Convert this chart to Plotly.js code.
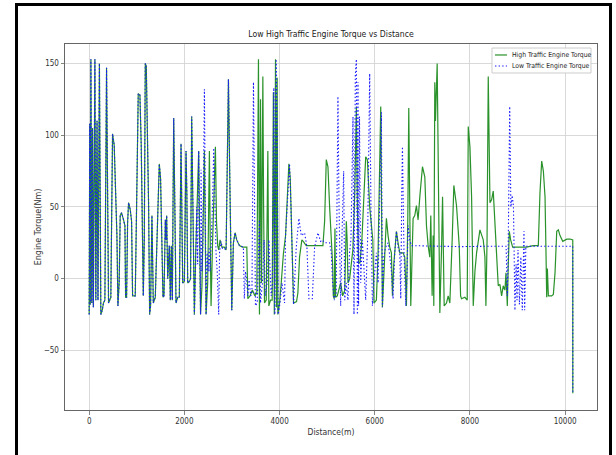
<!DOCTYPE html>
<html>
<head>
<meta charset="utf-8">
<script src="https://cdn.plot.ly/plotly-3.0.1.min.js"></script>
<style>
  html, body { margin: 0; padding: 0; background: #ffffff; }
  #wrap { position: relative; width: 616px; height: 455px; overflow: hidden; }
  #chart { position: absolute; left: 0; top: 0; width: 616px; height: 455px; }
  #frame { position: absolute; left: 15px; top: 3px; width: 591px; height: 470px;
           border: 3px solid #000; pointer-events: none; }
</style>
</head>
<body>
<div id="wrap">
  <div id="chart"></div>
  <div id="frame"></div>
</div>
<script>
// Segment where both runs coincide (distance in m, torque in Nm)
const sharedDistance = [0,12,24,36,55,70,88,120,140,165,185,215,245,275,300,330,365,385,407,455,
  491,526,561,583,604,630,652,680,722,751,765,786,807,828,863,891,912,968,996,1031,
  1066,1094,1123,1137,1158,1179,1200,1228,1249,1270,1290,1319,1347,1389,1420,1473,1500,1530,1551,1572,
  1600,1614,1628,1650,1684,1705,1726,1747,1776,1800,1824,1860,1894,1930,1948,1965,2000,2035,2052,2070,
  2105,2130,2154,2180,2210];
const sharedTorque = [-25,108,-18,153,-17,105,-20,153,-15,110,-15,150,-25,-22,-17,-15,147,50,-17,-13,
  101,93,55,30,-19,-3,44,46,41,37,-13,-13,39,53,48,40,-12,-12,50,129,
  128,93,23,-12,27,150,148,93,50,-25,-19,44,-17,-13,27,80,70,27,-13,-12,
  41,27,44,0,23,-15,23,-15,112,50,-17,-13,-13,94,50,-3,-2,89,60,-3,
  -2,0,113,27,-25];

// High traffic run after the shared segment
const highDistance = [2240,2301,2320,2340,2370,2400,2421,2440,2456,2490,2526,2545,2561,2590,2617,2652,2675,2700,2722,2750,
  2790,2840,2877,2926,2950,2975,2996,3030,3066,3100,3158,3220,3284,3312,3333,3380,3430,3480,3523,3557,
  3578,3600,3621,3649,3665,3684,3720,3754,3775,3810,3845,3870,3890,3915,3935,3950,3964,4000,4035,4080,
  4126,4160,4196,4225,4260,4294,4357,4385,4420,4469,4498,4561,4911,4947,4982,5017,5052,5087,5115,5129,
  5150,5164,5178,5213,5241,5284,5326,5370,5403,5420,5438,5473,5500,5540,5580,5614,5635,5660,5690,5730,
  5810,5845,5894,5940,5960,5985,6035,6070,6105,6126,6161,6189,6245,6280,6315,6350,6372,6400,6456,6490,
  6526,6595,6631,6666,6694,6715,6736,6757,6806,6841,6876,6911,6947,7003,7052,7087,7122,7157,7178,7206,
  7227,7241,7262,7276,7312,7368,7403,7425,7459,7508,7543,7578,7627,7662,7718,7775,7804,7824,7894,7943,
  7965,8000,8035,8070,8105,8140,8210,8245,8280,8315,8336,8360,8385,8421,8455,8490,8525,8560,8595,8630,
  8666,8700,8736,8757,8786,8806,8827,8856,8898,8946,9050,9190,9330,9437,9472,9508,9543,9578,9600,9613,
  9627,9648,9718,9753,9788,9824,9858,9893,9950,10035,10105,10161,10162];
const highTorque = [20,89,30,-25,-5,40,89,30,-25,-3,89,20,-19,22,50,92,40,23,20,27,
  22,22,20,139,80,27,-22,25,32,27,23,22,22,22,-14,-12,-8,-12,-10,153,
  -25,125,-3,141,50,-17,-15,89,-19,-15,-15,130,-25,153,-20,140,-25,-17,-3,17,
  30,50,80,70,20,-17,-16,-10,15,27,26,23,23,40,83,78,50,27,10,-12,
  -14,35,-13,-12,-8,-3,-12,-8,40,27,-3,0,8,20,60,120,50,11,11,27,
  85,83,50,37,27,-17,-15,18,97,120,-20,0,42,30,22,18,-12,10,33,25,
  18,18,15,-19,40,119,60,-19,42,44,51,41,57,78,71,37,23,15,44,-12,
  30,-19,137,110,150,-24,20,57,-19,-17,-12,-17,27,65,51,23,-12,-14,-13,-15,
  106,92,57,-19,5,18,34,30,27,15,-19,27,141,53,55,61,38,8,-5,-4,
  -12,-5,-8,4,-19,10,33,27,22,22,22,22,23,23,60,82,75,57,15,-13,
  7,-12,-12,-11,4,33,34,30,26,27.5,27.6,27,-80];

// Low traffic run after the shared segment
const lowDistance = [2230,2260,2280,2301,2320,2340,2351,2370,2390,2421,2440,2456,2480,2500,2520,2540,2560,2590,2617,2640,
  2665,2690,2722,2740,2770,2800,2840,2877,2926,2950,2975,2996,3030,3066,3100,3158,3240,3260,3285,3310,
  3333,3360,3395,3420,3452,3470,3494,3530,3578,3600,3640,3675,3700,3740,3775,3824,3850,3880,3902,3929,
  3950,3971,4010,4050,4105,4126,4160,4210,4240,4270,4294,4351,4406,4456,4526,4575,4617,4688,4736,4807,
  4862,4898,4947,5052,5087,5115,5150,5190,5227,5250,5284,5310,5347,5370,5400,5438,5470,5500,5543,5564,
  5592,5614,5635,5648,5660,5680,5705,5740,5780,5810,5850,5894,5920,5951,5980,6035,6070,6105,6140,6161,
  6189,6230,6280,6315,6350,6385,6420,6456,6490,6526,6547,6568,6582,6600,6615,6652,6680,6701,6736,6771,
  7200,7800,8400,8760,8786,8800,8836,8860,8890,8915,8946,8970,8990,9010,9040,9070,9100,9120,9136,9150,
  9175,10161,10162];
const lowTorque = [0,50,10,89,30,-25,76,5,27,132,50,-25,18,5,22,5,22,50,91,50,
  18,5,-25,19,26,21,21,20,139,80,27,-22,25,32,27,23,22,-14,5,-1,
  -12,-1,-12,-10,137,40,-19,-17,41,-17,-3,27,-12,-3,27,-12,-5,133,-25,153,
  93,-25,-17,-3,-17,30,50,80,50,10,-18,22,42,30,32,22,-14,-14,22,32,
  26,27,25,25,18,-3,-15,-10,127,50,-19,27,75,-15,-3,-15,18,27,113,-25,
  142,153,-25,137,-19,113,-3,27,-3,-15,27,143,50,-19,-3,18,-3,50,116,-20,
  15,22,25,16,5,-14,18,33,22,18,-14,60,92,50,18,-19,5,37,27,23,
  22.6,22.3,22.6,22.6,-12,10,120,50,58,50,-22,10,-15,20,-18,15,-22,20,33,-22,
  22.6,22.6,-80];

const xTicks = [0, 2000, 4000, 6000, 8000, 10000];
const yTicks = [-50, 0, 50, 100, 150];
const seriesNames = ['High Traffic Engine Torque', 'Low Traffic Engine Torque'];

const narrow = '"Liberation Sans Narrow", "DejaVu Sans Condensed", "Roboto Condensed", "Liberation Sans", sans-serif';
const greenLine = { color: '#2a922a', width: 1.2 };
const blueLine = { color: '#1818ff', width: 1.1, dash: '1.4px,2.2px' };

const traces = [
  {
    x: sharedDistance.concat(highDistance),
    y: sharedTorque.concat(highTorque),
    type: 'scatter', mode: 'lines',
    name: seriesNames[0],
    line: greenLine
  },
  {
    x: sharedDistance.concat(lowDistance),
    y: sharedTorque.concat(lowTorque),
    type: 'scatter', mode: 'lines',
    name: seriesNames[1],
    line: blueLine
  }
];

const axisCommon = {
  showline: true, mirror: true, linecolor: '#666', linewidth: 1,
  ticks: 'outside', ticklen: 3.5, tickcolor: '#666', tickwidth: 0.8,
  showgrid: true, gridcolor: '#d0d0d0', gridwidth: 0.8,
  zeroline: false,
  tickfont: { family: narrow, size: 8, color: '#333' }
};

// Legend box drawn as a small framed key in the upper right corner
const legendShapes = [
  { type: 'rect', xref: 'paper', yref: 'paper', x0: 0.8026, x1: 0.9887, y0: 0.9208, y1: 0.989,
    line: { color: '#cccccc', width: 1 }, fillcolor: 'rgba(255,255,255,0.85)', layer: 'above' },
  { type: 'line', xref: 'paper', yref: 'paper', x0: 0.8083, x1: 0.8308, y0: 0.970, y1: 0.970,
    line: greenLine, layer: 'above' },
  { type: 'line', xref: 'paper', yref: 'paper', x0: 0.8083, x1: 0.8308, y0: 0.940, y1: 0.940,
    line: blueLine, layer: 'above' }
];
const legendLabels = [
  { xref: 'paper', yref: 'paper', x: 0.8365, y: 0.970, xanchor: 'left', yanchor: 'middle',
    text: seriesNames[0], showarrow: false, font: { family: narrow, size: 6.8, color: '#222' } },
  { xref: 'paper', yref: 'paper', x: 0.8365, y: 0.940, xanchor: 'left', yanchor: 'middle',
    text: seriesNames[1], showarrow: false, font: { family: narrow, size: 6.8, color: '#222' } }
];

const layout = {
  width: 616, height: 455,
  margin: { l: 65, r: 19, t: 44, b: 45 },
  paper_bgcolor: '#ffffff', plot_bgcolor: '#ffffff',
  showlegend: false,
  title: {
    text: 'Low High Traffic Engine Torque vs Distance',
    font: { family: narrow, size: 8.6, color: '#1a1a1a' },
    x: 0.5, xref: 'paper', xanchor: 'center',
    y: 0.925, yref: 'container', yanchor: 'middle'
  },
  xaxis: Object.assign({}, axisCommon, {
    range: [-508, 10670],
    tickmode: 'array', tickvals: xTicks, tickformat: 'd',
    title: { text: 'Distance(m)', font: { family: narrow, size: 8.5, color: '#333' }, standoff: 3 }
  }),
  yaxis: Object.assign({}, axisCommon, {
    range: [-91.6, 163.6],
    tickmode: 'array', tickvals: yTicks, tickformat: 'd',
    ticklabelstandoff: 0,
    title: { text: 'Engine Torque(Nm)', font: { family: 'DejaVu Sans, sans-serif', size: 8, color: '#333' }, standoff: 0 }
  }),
  shapes: legendShapes,
  annotations: legendLabels
};

Plotly.newPlot('chart', traces, layout, { displayModeBar: false, staticPlot: true });
</script>
</body>
</html>
